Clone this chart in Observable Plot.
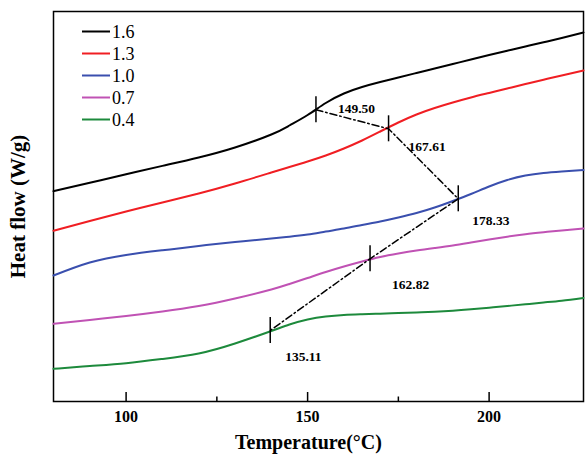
<!DOCTYPE html>
<html>
<head>
<meta charset="utf-8">
<script src="https://cdn.jsdelivr.net/npm/d3@7"></script>
<script src="https://cdn.jsdelivr.net/npm/@observablehq/plot@0.6"></script>
<style>
  html, body { margin: 0; padding: 0; background: #fff; }
  #chart { width: 585px; height: 460px; }
</style>
</head>
<body>
<div id="chart"></div>
<script>
// ---- data ----
const temps = [80, 90, 100, 110, 120, 130, 140, 145, 150, 155, 160, 165, 170, 175, 180, 185, 190, 195, 200, 205, 210, 215, 220, 226];
const seriesNames = ["1.6", "1.3", "1.0", "0.7", "0.4"];
const flow16 = [2.103, 2.187, 2.272, 2.356, 2.44, 2.54, 2.67, 2.76, 2.865, 2.985, 3.08, 3.145, 3.195, 3.24, 3.285, 3.33, 3.375, 3.42, 3.465, 3.508, 3.55, 3.592, 3.635, 3.69];
const flow13 = [1.707, 1.805, 1.90, 1.99, 2.08, 2.18, 2.29, 2.345, 2.40, 2.46, 2.53, 2.61, 2.70, 2.79, 2.87, 2.935, 2.99, 3.04, 3.085, 3.13, 3.175, 3.218, 3.26, 3.31];
const flow10 = [1.26, 1.39, 1.465, 1.512, 1.555, 1.595, 1.63, 1.648, 1.67, 1.70, 1.73, 1.765, 1.80, 1.84, 1.885, 1.94, 2.005, 2.075, 2.15, 2.215, 2.26, 2.285, 2.30, 2.316];
const flow07 = [0.777, 0.815, 0.855, 0.90, 0.955, 1.03, 1.12, 1.175, 1.235, 1.295, 1.35, 1.40, 1.445, 1.48, 1.51, 1.535, 1.56, 1.59, 1.62, 1.648, 1.673, 1.693, 1.711, 1.73];
const flow04 = [0.327, 0.355, 0.383, 0.425, 0.48, 0.58, 0.705, 0.77, 0.82, 0.85, 0.865, 0.872, 0.878, 0.884, 0.891, 0.898, 0.908, 0.922, 0.938, 0.955, 0.972, 0.99, 1.008, 1.036];

const markerTemps = [152.3, 172.3, 191.5, 167.2, 139.7];
const markerFlows = [2.917, 2.727, 2.027, 1.427, 0.71];
const markerLabels = ["149.50", "167.61", "178.33", "162.82", "135.11"];

const majorTicks = [100, 150, 200];
const minorTicks = [125, 175];

// ---- styles ----
const colors = ["#000000", "#f01e23", "#3a4fae", "#c052b4", "#1d8a3c"];
const labelOffsets = [[22, -1], [20, 18], [14, 22], [22, 26], [15, 26]];
const font = "'Liberation Serif', 'Times New Roman', serif";

const allFlows = [flow16, flow13, flow10, flow07, flow04];
const rows = [];
seriesNames.forEach((s, si) => {
  temps.forEach((t, i) => rows.push({series: s, T: t, flow: allFlows[si][i]}));
});
const markers = markerTemps.map((t, i) => ({T: t, flow: markerFlows[i], label: markerLabels[i]}));

const chart = Plot.plot({
  width: 585,
  height: 460,
  marginLeft: 53,
  marginRight: 2,
  marginTop: 11,
  marginBottom: 59,
  style: {fontFamily: font, background: "#fff", color: "#000"},
  x: {domain: [80, 226]},
  y: {domain: [0, 3.9], axis: null},
  color: {domain: seriesNames, range: colors},
  marks: [
    Plot.frame({stroke: "#000", strokeWidth: 1.5}),
    Plot.ruleX(majorTicks, {y1: 0, y2: 0.09, stroke: "#000", strokeWidth: 1.5}),
    Plot.ruleX(minorTicks, {y1: 0, y2: 0.045, stroke: "#000", strokeWidth: 1.5}),
    Plot.axisX({ticks: majorTicks, tickSize: 0, tickPadding: 9, fontSize: 16, fontWeight: "bold", fontFamily: font, label: null}),
    Plot.text(["Temperature(\u00B0C)"], {frameAnchor: "bottom", dx: -10, dy: 41, lineAnchor: "middle", textAnchor: "middle", fontSize: 20, fontWeight: "bold", fontFamily: font}),
    Plot.text(["Heat flow (W/g)"], {frameAnchor: "left", dx: -35, rotate: -90, textAnchor: "middle", lineAnchor: "middle", fontSize: 21, fontWeight: "bold", fontFamily: font}),
    Plot.line(rows, {x: "T", y: "flow", z: "series", stroke: "series", strokeWidth: 2, curve: "natural"}),
    Plot.line(markers, {x: "T", y: "flow", stroke: "#000", strokeWidth: 1.5, strokeDasharray: "7,3,1.5,3"}),
    Plot.ruleX(markers, {x: "T", y1: d => d.flow - 0.13, y2: d => d.flow + 0.13, stroke: "#000", strokeWidth: 1.5}),
    ...markers.map((m, i) => Plot.text([m], {x: "T", y: "flow", text: "label", dx: labelOffsets[i][0], dy: labelOffsets[i][1], textAnchor: "start", fontSize: 13.5, fontWeight: "bold", fontFamily: font}))
  ]
});

// legend (inside the plot area, top-left)
const lg = d3.select(chart).append("g").attr("font-family", font).attr("font-size", 18).attr("text-anchor", "start");
seriesNames.forEach((s, i) => {
  const y = 31.5 + i * 22;
  lg.append("line").attr("x1", 82).attr("x2", 110).attr("y1", y).attr("y2", y)
    .attr("stroke", colors[i]).attr("stroke-width", 2);
  lg.append("text").attr("x", 112).attr("y", y).attr("dy", "0.35em").attr("fill", "#000").attr("text-anchor", "start").text(s);
});

document.getElementById("chart").appendChild(chart);
</script>
</body>
</html>
